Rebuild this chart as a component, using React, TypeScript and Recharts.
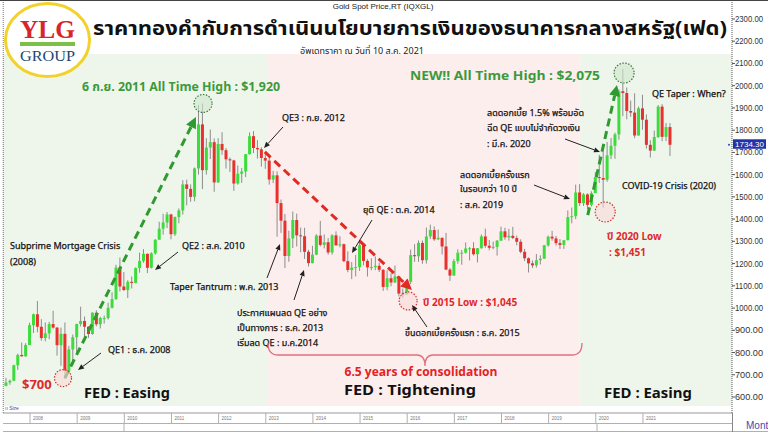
import React from 'react';
import { ComposedChart, Bar, XAxis, YAxis, ReferenceArea, ReferenceLine, ReferenceDot } from 'recharts';

type OHLC = [number, number, number, number];

// Monthly gold spot OHLC (open, high, low, close)
const gold2007: OHLC[] = [[650, 686, 648, 665], [665, 678, 655, 673], [673, 745, 671, 743], [743, 795, 722, 789], [789, 845, 782, 783], [783, 842, 781, 834]];
const gold2008: OHLC[] = [[834, 934, 834, 923], [923, 975, 888, 972], [972, 1032, 891, 916], [916, 950, 853, 865], [865, 935, 850, 886], [886, 938, 860, 928], [928, 988, 907, 912], [912, 915, 786, 833], [833, 912, 740, 884], [884, 935, 681, 717], [717, 830, 705, 814], [814, 881, 743, 869]];
const gold2009: OHLC[] = [[869, 930, 800, 928], [928, 1006, 917, 942], [942, 962, 866, 916], [916, 918, 866, 883], [883, 981, 880, 979], [979, 990, 918, 927], [927, 961, 908, 955], [955, 966, 930, 955], [955, 1024, 948, 1001], [1001, 1071, 998, 1040], [1040, 1195, 1038, 1182], [1182, 1227, 1075, 1097]];
const gold2010: OHLC[] = [[1097, 1162, 1077, 1081], [1081, 1125, 1045, 1118], [1118, 1142, 1088, 1113], [1113, 1183, 1111, 1180], [1180, 1249, 1159, 1212], [1212, 1265, 1204, 1244], [1244, 1245, 1157, 1181], [1181, 1251, 1178, 1246], [1246, 1310, 1240, 1307], [1307, 1388, 1315, 1357], [1357, 1424, 1330, 1385], [1385, 1432, 1360, 1421]];
const gold2011: OHLC[] = [[1421, 1424, 1309, 1332], [1332, 1412, 1324, 1409], [1409, 1448, 1381, 1439], [1439, 1575, 1420, 1556], [1556, 1577, 1462, 1536], [1536, 1556, 1478, 1500], [1500, 1632, 1480, 1628], [1628, 1913, 1600, 1826], [1826, 1920, 1535, 1620], [1620, 1764, 1600, 1722], [1722, 1803, 1670, 1746], [1746, 1763, 1523, 1565]];
const gold2012: OHLC[] = [[1565, 1764, 1563, 1738], [1738, 1791, 1689, 1710], [1710, 1720, 1627, 1669], [1669, 1677, 1612, 1664], [1664, 1667, 1527, 1560], [1560, 1641, 1555, 1604], [1604, 1630, 1563, 1614], [1614, 1693, 1589, 1692], [1692, 1790, 1690, 1773], [1773, 1796, 1697, 1720], [1720, 1755, 1672, 1714], [1714, 1723, 1636, 1675]];
const gold2013: OHLC[] = [[1675, 1695, 1626, 1663], [1663, 1685, 1555, 1578], [1578, 1617, 1562, 1597], [1597, 1615, 1321, 1472], [1472, 1488, 1338, 1393], [1393, 1423, 1180, 1234], [1234, 1348, 1208, 1313], [1313, 1434, 1270, 1396], [1396, 1425, 1277, 1327], [1327, 1362, 1251, 1323], [1323, 1361, 1221, 1253], [1253, 1262, 1187, 1202]];
const gold2014: OHLC[] = [[1202, 1280, 1201, 1240], [1240, 1332, 1238, 1326], [1326, 1392, 1277, 1284], [1284, 1331, 1268, 1296], [1296, 1315, 1240, 1250], [1250, 1332, 1240, 1327], [1327, 1345, 1281, 1282], [1282, 1323, 1273, 1287], [1287, 1290, 1206, 1211], [1211, 1255, 1161, 1171], [1171, 1207, 1130, 1182], [1182, 1239, 1142, 1184]];
const gold2015: OHLC[] = [[1184, 1307, 1167, 1283], [1283, 1284, 1192, 1212], [1212, 1220, 1142, 1183], [1183, 1224, 1170, 1184], [1184, 1232, 1170, 1190], [1190, 1205, 1162, 1172], [1172, 1175, 1077, 1095], [1095, 1170, 1080, 1134], [1134, 1157, 1098, 1115], [1115, 1191, 1113, 1142], [1142, 1143, 1052, 1065], [1065, 1088, 1045, 1061]];
const gold2016: OHLC[] = [[1061, 1128, 1060, 1118], [1118, 1263, 1108, 1238], [1238, 1287, 1208, 1233], [1233, 1304, 1208, 1293], [1293, 1304, 1199, 1215], [1215, 1362, 1200, 1322], [1322, 1375, 1310, 1351], [1351, 1367, 1302, 1309], [1309, 1353, 1305, 1316], [1316, 1317, 1241, 1277], [1277, 1338, 1171, 1173], [1173, 1180, 1122, 1146]];
const gold2017: OHLC[] = [[1146, 1220, 1146, 1211], [1211, 1264, 1199, 1249], [1249, 1261, 1195, 1249], [1249, 1295, 1245, 1268], [1268, 1274, 1214, 1269], [1269, 1296, 1236, 1242], [1242, 1270, 1205, 1269], [1269, 1331, 1267, 1322], [1322, 1357, 1271, 1280], [1280, 1306, 1260, 1271], [1271, 1299, 1264, 1275], [1275, 1306, 1236, 1303]];
const gold2018: OHLC[] = [[1303, 1366, 1302, 1345], [1345, 1361, 1307, 1318], [1318, 1356, 1303, 1325], [1325, 1365, 1310, 1315], [1315, 1326, 1282, 1298], [1298, 1309, 1246, 1253], [1253, 1266, 1211, 1224], [1224, 1228, 1160, 1201], [1201, 1214, 1180, 1192], [1192, 1243, 1182, 1215], [1215, 1237, 1196, 1222], [1222, 1284, 1221, 1282]];
const gold2019: OHLC[] = [[1282, 1326, 1276, 1321], [1321, 1347, 1303, 1313], [1313, 1324, 1281, 1292], [1292, 1310, 1266, 1284], [1284, 1305, 1266, 1305], [1305, 1439, 1305, 1409], [1409, 1452, 1381, 1413], [1413, 1555, 1400, 1520], [1520, 1557, 1459, 1472], [1472, 1517, 1459, 1511], [1511, 1516, 1445, 1464], [1464, 1525, 1456, 1517]];
const gold2020: OHLC[] = [[1517, 1611, 1517, 1589], [1589, 1689, 1563, 1585], [1585, 1704, 1451, 1577], [1577, 1747, 1568, 1687], [1687, 1765, 1670, 1730], [1730, 1789, 1671, 1781], [1781, 1984, 1757, 1975], [1975, 2075, 1863, 1967], [1967, 1992, 1849, 1886], [1886, 1933, 1860, 1879], [1879, 1966, 1764, 1776], [1776, 1906, 1776, 1898]];
const gold2021: OHLC[] = [[1898, 1959, 1802, 1847], [1847, 1871, 1717, 1734], [1734, 1755, 1677, 1708], [1708, 1798, 1707, 1769], [1769, 1913, 1765, 1906], [1906, 1917, 1750, 1770], [1770, 1832, 1751, 1814], [1814, 1832, 1684, 1734.3]];

const yearSeries: [number, number, OHLC[]][] = [
  [2007, 7, gold2007], [2008, 1, gold2008], [2009, 1, gold2009], [2010, 1, gold2010], [2011, 1, gold2011],
  [2012, 1, gold2012], [2013, 1, gold2013], [2014, 1, gold2014], [2015, 1, gold2015], [2016, 1, gold2016],
  [2017, 1, gold2017], [2018, 1, gold2018], [2019, 1, gold2019], [2020, 1, gold2020], [2021, 1, gold2021],
];

const yearTicks = [2008, 2009, 2010, 2011, 2012, 2013, 2014, 2015, 2016, 2017, 2018, 2019, 2020, 2021];
const priceTicks = [600, 700, 800, 900, 1000, 1100, 1200, 1300, 1400, 1500, 1600, 1700, 1800, 1900, 2000, 2100, 2200, 2300];
const lastPrice = 1734.3;

const data = yearSeries.flatMap(([yr, startM, rows]) =>
  rows.map((r, i) => ({
    t: yr + (startM + i - 1) / 12,
    open: r[0], high: r[1], low: r[2], close: r[3],
    range: [r[2], r[1]],
  }))
);

const T0 = 2007.427;
const T1 = 2022.889;
const V0 = 528;
const V1 = 2385.4;

const THAI = "'Noto Sans Thai', 'Noto Sans Thai UI', Tahoma, 'Liberation Sans', 'Noto Sans', sans-serif";
const SANS = "'Liberation Sans', Arial, 'Noto Sans Thai', sans-serif";
const NARROW = "'Liberation Sans Narrow', 'Liberation Sans', Arial, sans-serif";

const Candle = (props: any) => {
  const { x, y, width, height, payload } = props;
  if (!payload || height == null) return null;
  const top = height < 0 ? y + height : y;
  const h = Math.abs(height);
  const { open, close, high, low } = payload;
  const k = h / (high - low || 1);
  const yO = top + (high - open) * k;
  const yC = top + (high - close) * k;
  const up = close >= open;
  const bt = Math.min(yO, yC);
  const bh = Math.max(1, Math.abs(yC - yO));
  const cx = x + width / 2;
  return (
    <g>
      <line x1={cx} x2={cx} y1={top} y2={top + h} stroke="#8c8c8c" strokeWidth={1} />
      <rect x={cx - 1.5} y={bt} width={3} height={bh} fill={up ? '#3ddc3d' : '#e8302c'} />
    </g>
  );
};

const dashedArrow = (color: string) => (p: any) => {
  const { x1, y1, x2, y2 } = p;
  if ([x1, y1, x2, y2].some((v) => v == null || isNaN(v))) return <g />;
  const ang = Math.atan2(y2 - y1, x2 - x1);
  const L = 11, W = 5.5;
  const bx = x2 - L * Math.cos(ang), by = y2 - L * Math.sin(ang);
  const px = -Math.sin(ang) * W, py = Math.cos(ang) * W;
  return (
    <g>
      <line x1={x1} y1={y1} x2={bx} y2={by} stroke={color} strokeWidth={3} strokeDasharray="8 5" />
      <polygon points={`${x2},${y2} ${bx + px},${by + py} ${bx - px},${by - py}`} fill={color} />
    </g>
  );
};

const YearTick = (p: any) => {
  const { x, payload } = p;
  return (
    <g>
      <line x1={x} x2={x} y1={413} y2={423} stroke="#b0b0b0" strokeWidth={1} />
      <text x={x + 3} y={420} fontSize={4.5} fill="#777" fontFamily={SANS}>{payload.value}</text>
    </g>
  );
};

const PriceTick = (p: any) => {
  const { x, y, payload } = p;
  return (
    <text x={x} y={y + 3} fontSize={8.5} fill="#333" fontFamily={NARROW} textLength={28} lengthAdjust="spacingAndGlyphs">{Number(payload.value).toFixed(2)}</text>
  );
};

const LastLabel = (p: any) => {
  const vb = p.viewBox || {};
  const x = (vb.x || 0) + (vb.width || 0);
  const y = vb.y || 0;
  return (
    <g>
      <circle cx={x - 3} cy={y} r={1} fill="#3344bb" />
      <rect x={x + 1} y={y - 5.5} width={33} height={9.5} fill="#2233aa" />
      <text x={x + 3} y={y + 2.2} fontSize={8} fill="#fff" fontFamily={NARROW} textLength={29} lengthAdjust="spacingAndGlyphs">{lastPrice.toFixed(2)}</text>
    </g>
  );
};

const Arrow = ({ x1, y1, x2, y2 }: { x1: number; y1: number; x2: number; y2: number }) => {
  const ang = Math.atan2(y2 - y1, x2 - x1);
  const L = 6, W = 2.6;
  const bx = x2 - L * Math.cos(ang), by = y2 - L * Math.sin(ang);
  const px = -Math.sin(ang) * W, py = Math.cos(ang) * W;
  return (
    <g>
      <line x1={x1} y1={y1} x2={bx} y2={by} stroke="#222" strokeWidth={1} />
      <polygon points={`${x2},${y2} ${bx + px},${by + py} ${bx - px},${by - py}`} fill="#222" />
    </g>
  );
};

const Note = ({ x, y, children, fill = '#111', size = 9, weight = 'normal', anchor = 'start', len }: any) => (
  <text x={x} y={y} fontSize={size} fill={fill} fontWeight={weight} textAnchor={anchor} fontFamily={THAI}
    stroke={weight === 'normal' ? fill : 'none'} strokeWidth={0.25}
    {...(len ? { textLength: len, lengthAdjust: 'spacingAndGlyphs' } : {})}>{children}</text>
);

const Overlay = () => (
  <svg width={768} height={432} style={{ position: 'absolute', left: 0, top: 0, pointerEvents: 'none' }}>
    {/* frame */}
    <line x1={0} y1={0.5} x2={768} y2={0.5} stroke="#444" strokeWidth={1} />
    <line x1={3} y1={423.5} x2={732} y2={423.5} stroke="#b0b0b0" strokeWidth={1} />
    <line x1={3} y1={431.5} x2={768} y2={431.5} stroke="#b0b0b0" strokeWidth={1} />
    <line x1={124} y1={423} x2={124} y2={432} stroke="#b0b0b0" strokeWidth={1} />
    <line x1={597} y1={423} x2={597} y2={432} stroke="#b0b0b0" strokeWidth={1} />
    <line x1={732.5} y1={413} x2={732.5} y2={432} stroke="#888" strokeWidth={1} />
    <text x={746} y={429} fontSize={10} fill="#3a4db0" fontFamily={NARROW}>Mont</text>
    <text x={5} y={410} fontSize={5} fill="#3a4db0" fontFamily={SANS}>ıı Size</text>

    {/* header */}
    <text x={383} y={9} fontSize={8} fill="#222" textAnchor="middle" fontFamily={NARROW}>Gold  Spot  Price,RT  (IQXGL)</text>
    <text x={93} y={35} fontSize={20} fontWeight="bold" fill="#111" fontFamily={THAI} textLength={634} lengthAdjust="spacingAndGlyphs">ราคาทองคำกับการดำเนินนโยบายการเงินของธนาคารกลางสหรัฐ(เฟด)</text>
    <text x={362} y={54} fontSize={9} fill="#222" textAnchor="middle" fontFamily={THAI}>อัพเดทราคา ณ วันที่ 10 ส.ค. 2021</text>

    {/* logo */}
    <ellipse cx={47.5} cy={40} rx={42} ry={36.5} fill="#fff" stroke="#f2d22a" strokeWidth={3} />
    <text x={47.5} y={38} fontSize={26} fontWeight="bold" fill="#d8252a" textAnchor="middle" fontFamily="'Liberation Serif', 'DejaVu Serif', serif" textLength={55} lengthAdjust="spacingAndGlyphs">YLG</text>
    <rect x={20} y={42} width={55} height={4} fill="#7cc04a" />
    <text x={47.5} y={60.5} fontSize={15} fill="#22466e" textAnchor="middle" fontFamily="'Liberation Serif', 'DejaVu Serif', serif" textLength={55} lengthAdjust="spacingAndGlyphs">GROUP</text>

    {/* headline notes */}
    <Note x={82} y={91} size={13} weight="bold" fill="#3b9a3b" len={198}>6 ก.ย. 2011 All Time High : $1,920</Note>
    <Note x={410} y={80} size={13} weight="bold" fill="#3b9a3b" len={190}>NEW!! All Time High : $2,075</Note>

    <Note x={10} y={249}>Subprime Mortgage Crisis</Note>
    <Note x={10} y={265}>(2008)</Note>

    <Note x={182} y={249}>QE2 : ส.ค. 2010</Note>
    <Arrow x1={178} y1={252} x2={155} y2={270} />

    <Note x={108} y={353}>QE1 : ธ.ค. 2008</Note>
    <Arrow x1={101} y1={353} x2={78} y2={370} />

    <Note x={22} y={389} size={13} weight="bold" fill="#e0282a">$700</Note>

    <Note x={170} y={290}>Taper Tantrum  : พ.ค. 2013</Note>
    <Arrow x1={267} y1={278} x2={280} y2={244} />

    <Note x={237} y={316}>ประกาศแผนลด QE อย่าง</Note>
    <Note x={237} y={331}>เป็นทางการ : ธ.ค. 2013</Note>
    <Note x={237} y={346}>เริ่มลด QE : ม.ค.2014</Note>
    <Arrow x1={294} y1={300} x2={304} y2={270} />

    <Note x={282} y={121}>QE3 : ก.ย. 2012</Note>
    <Arrow x1={283} y1={127} x2={264} y2={148} />

    <Note x={363} y={213}>ยุติ QE : ต.ค. 2014</Note>
    <Arrow x1={372} y1={220} x2={352} y2={253} />

    <Note x={423} y={306} size={10} weight="bold" fill="#e0282a">ปี 2015 Low : $1,045</Note>
    <Note x={405} y={336}>ขึ้นดอกเบี้ยครั้งแรก : ธ.ค. 2015</Note>
    <Arrow x1={427} y1={327} x2={412} y2={305} />

    <path d="M268,343 Q268,355 278,355 L417,355 Q425,355 425,366 Q425,355 433,355 L572,355 Q582,355 582,343" fill="none" stroke="#e0707e" strokeWidth={1.3} />
    <Note x={421} y={376} size={12} weight="bold" fill="#e3221f" anchor="middle" len={153}>6.5 years of consolidation</Note>

    <Note x={127} y={398} size={15} weight="bold" fill="#111" anchor="middle" len={86}>FED : Easing</Note>
    <Note x={410} y={395} size={14.5} weight="bold" fill="#111" anchor="middle" len={132}>FED : Tightening</Note>
    <Note x={648} y={398} size={15} weight="bold" fill="#111" anchor="middle" len={88}>FED : Easing</Note>

    <Note x={487} y={116}>ลดดอกเบี้ย 1.5% พร้อมอัด</Note>
    <Note x={487} y={131}>ฉีด QE แบบไม่จำกัดวงเงิน</Note>
    <Note x={487} y={147}>: มี.ค. 2020</Note>
    <Arrow x1={565} y1={139} x2={600} y2={152} />

    <Note x={460} y={178}>ลดดอกเบี้ยครั้งแรก</Note>
    <Note x={460} y={192}>ในรอบกว่า 10 ปี</Note>
    <Note x={460} y={208}>: ส.ค. 2019</Note>
    <Arrow x1={534} y1={185} x2={570} y2={199} />

    <Note x={652} y={97}>QE Taper : When?</Note>
    <Note x={622} y={189}>COVID-19 Crisis (2020)</Note>

    <Note x={607} y={240} size={10} weight="bold" fill="#e0282a">ปี 2020 Low</Note>
    <Note x={609} y={256} size={10} weight="bold" fill="#e0282a">: $1,451</Note>
  </svg>
);

export default function App() {
  return (
    <div style={{ position: 'absolute', left: 0, top: 0, width: 768, height: 432, background: '#fff', fontFamily: SANS }}>
      <ComposedChart width={768} height={432} data={data} margin={{ top: 0, right: 0, bottom: 0, left: 3 }}>
        <XAxis dataKey="t" type="number" domain={[T0, T1]} ticks={yearTicks} allowDataOverflow height={19}
          axisLine={{ stroke: '#999' }} tickLine={false} tick={<YearTick />} interval={0} />
        <YAxis yAxisId="r" orientation="right" width={36} domain={[V0, V1]} ticks={priceTicks} allowDataOverflow
          axisLine={{ stroke: '#555', strokeDasharray: '1 1' }} tickLine={{ stroke: '#555' }} tickSize={3} tickMargin={0}
          tick={<PriceTick />} interval={0} />

        <ReferenceArea yAxisId="r" x1={T0} x2={2013.05} y1={559} y2={2142} fill="#eef6ec" fillOpacity={1} stroke="none" ifOverflow="visible" />
        <ReferenceArea yAxisId="r" x1={2013.05} x2={2019.66} y1={559} y2={2142} fill="#fdeeee" fillOpacity={1} stroke="none" ifOverflow="visible" />
        <ReferenceArea yAxisId="r" x1={2019.66} x2={T1} y1={559} y2={2142} fill="#eef6ec" fillOpacity={1} stroke="none" ifOverflow="visible" />
        <ReferenceLine yAxisId="r" x={T0 + 0.005} stroke="#777" strokeDasharray="1 1" ifOverflow="visible" />

        <Bar yAxisId="r" dataKey="range" barSize={3} shape={<Candle />} isAnimationActive={false} />

        <ReferenceLine yAxisId="r" segment={[{ x: 2008.74, y: 685 }, { x: 2011.52, y: 1859 }]} shape={dashedArrow('#2f9a2f')} ifOverflow="visible" />
        <ReferenceLine yAxisId="r" segment={[{ x: 2012.98, y: 1702 }, { x: 2016.1, y: 1081 }]} shape={dashedArrow('#e02a24')} ifOverflow="visible" />
        <ReferenceLine yAxisId="r" segment={[{ x: 2019.83, y: 1418 }, { x: 2020.45, y: 2003 }]} shape={dashedArrow('#2f9a2f')} ifOverflow="visible" />

        <ReferenceDot yAxisId="r" x={2011.67} y={1920} r={9} fill="#cfe8cc" fillOpacity={0.6} stroke="#3a7a3a" strokeWidth={1.2} strokeDasharray="1.5 1.5" ifOverflow="visible" />
        <ReferenceDot yAxisId="r" x={2020.6} y={2057} r={10} fill="#cfe8cc" fillOpacity={0.6} stroke="#3a7a3a" strokeWidth={1.2} strokeDasharray="1.5 1.5" ifOverflow="visible" />
        <ReferenceDot yAxisId="r" x={2008.7} y={685} r={8.5} fill="#fbd8d8" fillOpacity={0.6} stroke="#d03030" strokeWidth={1.2} strokeDasharray="1.5 1.5" ifOverflow="visible" />
        <ReferenceDot yAxisId="r" x={2016.02} y={1032} r={9} fill="#fbd8d8" fillOpacity={0.6} stroke="#d03030" strokeWidth={1.2} strokeDasharray="1.5 1.5" ifOverflow="visible" />
        <ReferenceDot yAxisId="r" x={2020.2} y={1432} r={10} fill="#fbd8d8" fillOpacity={0.6} stroke="#d03030" strokeWidth={1.2} strokeDasharray="1.5 1.5" ifOverflow="visible" />

        <ReferenceLine yAxisId="r" y={lastPrice} stroke="none" label={<LastLabel />} ifOverflow="visible" />
      </ComposedChart>
      <Overlay />
    </div>
  );
}
